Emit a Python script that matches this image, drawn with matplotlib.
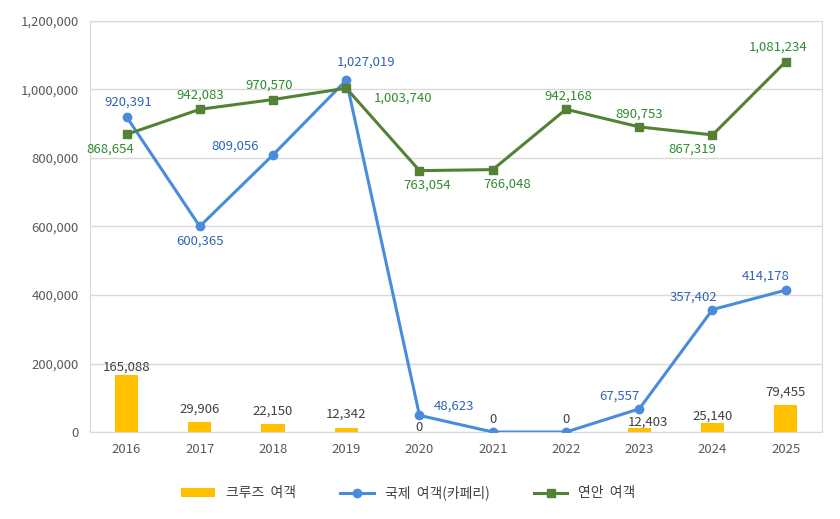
import numpy as np
import matplotlib.pyplot as plt

plt.rcParams['font.family'] = ['Noto Sans CJK KR', 'DejaVu Sans']

years = ['2016', '2017', '2018', '2019', '2020', '2021', '2022', '2023', '2024', '2025']
cruise = [165088, 29906, 22150, 12342, 0, 0, 0, 12403, 25140, 79455]
intl = [920391, 600365, 809056, 1027019, 48623, 0, 0, 67557, 357402, 414178]
coastal = [868654, 942083, 970570, 1003740, 763054, 766048, 942168, 890753, 867319, 1081234]

# label offsets in pixels (dx, dy), dy positive = up
cruise_off = [(0, 8), (0, 13), (0, 13), (0, 14), (0, 5), (0, 13), (0, 13), (9, 6), (0, 7), (0, 13)]
intl_off = [(2, 15), (0, -15), (-38, 9), (20, 18), (35, 9), None, None, (-20, 13), (-19, 12), (-20, 14)]
coastal_off = [(-16, -15), (0, 14), (-4, 14), (57, -10), (8, -15), (14, -15), (2, 13), (0, 13), (-20, -14), (-8, 15)]

bar_c = '#FFC000'
blue = '#4A8BDB'
green = '#548235'
blue_txt = '#2F63B5'
green_txt = '#2E8B2E'
gray_txt = '#404040'

fig = plt.figure(figsize=(8.4, 5.19), dpi=100)
ax = fig.add_axes([0.107, 0.1676, 0.872, 0.792])
x = np.arange(len(years))

b = ax.bar(x, cruise, width=0.32, color=bar_c, label='크루즈  여객', zorder=2)
l1, = ax.plot(x, intl, color=blue, lw=2.2, marker='o', ms=6, label='국제  여객(카페리)', zorder=3)
l2, = ax.plot(x, coastal, color=green, lw=2.2, marker='s', ms=6, label='연안  여객', zorder=4)

def put(vals, offs, color):
    for i, v in enumerate(vals):
        if offs[i] is None:
            continue
        dx, dy = offs[i]
        ax.annotate(f'{v:,}', (x[i], v), xytext=(dx, dy), textcoords='offset pixels',
                    ha='center', va='center', fontsize=9.5, color=color, zorder=5)

put(cruise, cruise_off, gray_txt)
put(intl, intl_off, blue_txt)
put(coastal, coastal_off, green_txt)

ax.set_xlim(-0.5, len(years) - 0.5)
ax.set_ylim(0, 1200000)
ax.set_yticks(np.arange(0, 1200001, 200000))
ax.set_yticklabels([f'{t:,}' for t in range(0, 1200001, 200000)])
ax.set_xticks(x)
ax.set_xticklabels(years)
ax.tick_params(length=0, labelsize=9.5, labelcolor='#595959', pad=8)
ax.grid(axis='y', color='#D9D9D9', lw=1, zorder=0)
ax.set_axisbelow(True)
for s in ax.spines.values():
    s.set_color('#D9D9D9')

ax.legend(handles=[b, l1, l2], loc='upper center', bbox_to_anchor=(0.435, -0.1), ncol=3,
          frameon=False, fontsize=10, labelcolor='#404040', handlelength=2.4, columnspacing=3.2)

fig.savefig('out.png', dpi=100)
